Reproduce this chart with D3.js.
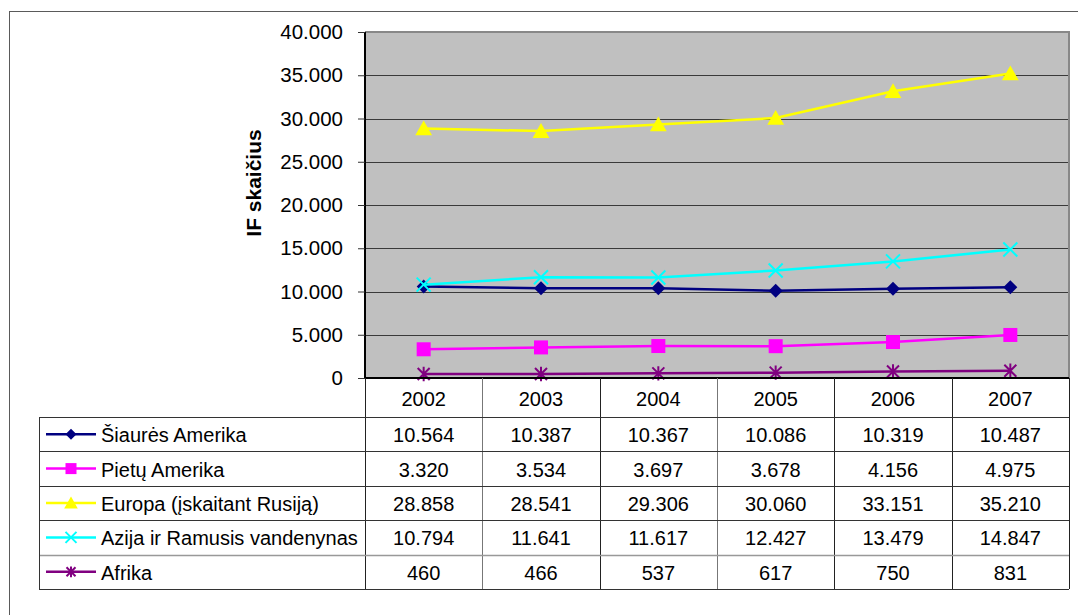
<!DOCTYPE html>
<html>
<head>
<meta charset="utf-8">
<script src="https://cdn.jsdelivr.net/npm/d3@7"></script>
<style>
  html, body { margin: 0; padding: 0; background: #fff; }
  svg { display: block; font-family: "Liberation Sans", Arial, sans-serif; }
</style>
</head>
<body>
<svg id="chart" width="1078" height="615"></svg>
<script>
// Investicinių fondų skaičius pagal regionus, 2002–2007
const years = ["2002", "2003", "2004", "2005", "2006", "2007"];
const seriesNames = [
  "Šiaurės Amerika",
  "Pietų Amerika",
  "Europa (įskaitant Rusiją)",
  "Azija ir Ramusis vandenynas",
  "Afrika"
];
const northAmerica = [10564, 10387, 10367, 10086, 10319, 10487];
const southAmerica = [3320, 3534, 3697, 3678, 4156, 4975];
const europe = [28858, 28541, 29306, 30060, 33151, 35210];
const asiaPacific = [10794, 11641, 11617, 12427, 13479, 14847];
const africa = [460, 466, 537, 617, 750, 831];
const yTicks = [0, 5000, 10000, 15000, 20000, 25000, 30000, 35000, 40000];
const yTitle = "IF skaičius";

const seriesColors = ["#000080", "#FF00FF", "#FFFF00", "#00FFFF", "#800080"];
const markerKinds = ["diamond", "square", "triangle", "cross", "star"];

const seriesList = [northAmerica, southAmerica, europe, asiaPacific, africa].map((values, i) => ({
  name: seriesNames[i], values, color: seriesColors[i], marker: markerKinds[i]
}));

const svg = d3.select("#chart");

// Lithuanian number style: thousands separated by a dot
const fmt = v => {
  const s = String(Math.round(v));
  return s.replace(/\B(?=(\d{3})+(?!\d))/g, ".");
};

const plot = { left: 365, right: 1069, top: 32, bottom: 378 };
const table = { left: 39, right: 1069, headerTop: 378, top: 417, rowH: 34.4 };

const x = d3.scaleBand().domain(years).range([plot.left, plot.right]).padding(0);
const y = d3.scaleLinear().domain([0, 40000]).range([plot.bottom, plot.top]);
const cx = d => x(d) + x.bandwidth() / 2;

// Outer chart frame
svg.append("rect")
  .attr("x", 9.5).attr("y", 11.5)
  .attr("width", 1100).attr("height", 700)
  .attr("fill", "#fff").attr("stroke", "#5a5a5a").attr("stroke-width", 1);

// Plot area background
svg.append("rect")
  .attr("x", plot.left).attr("y", plot.top)
  .attr("width", plot.right - plot.left).attr("height", plot.bottom - plot.top)
  .attr("fill", "#C0C0C0");

// Horizontal gridlines
svg.append("g")
  .selectAll("line")
  .data(yTicks.filter(t => t > 0 && t < 40000))
  .join("line")
  .attr("x1", plot.left).attr("x2", plot.right)
  .attr("y1", d => Math.round(y(d)) + 0.5).attr("y2", d => Math.round(y(d)) + 0.5)
  .attr("stroke", "#3a3a3a").attr("stroke-width", 1);

// Plot border top and right
svg.append("path")
  .attr("d", `M${plot.left},${plot.top} H${plot.right} V${plot.bottom}`)
  .attr("fill", "none").attr("stroke", "#888").attr("stroke-width", 2);

// Y axis
const yAxis = d3.axisLeft(y).tickValues(yTicks).tickFormat(fmt).tickSize(7).tickPadding(15);
const yg = svg.append("g").attr("transform", `translate(${plot.left},0)`).call(yAxis);
yg.select(".domain").attr("stroke", "#000").attr("stroke-width", 2)
  .attr("d", `M0,${plot.top}V${plot.bottom}`);
yg.selectAll(".tick line").attr("stroke", "#333");
yg.selectAll(".tick text")
  .attr("font-size", 20.5).attr("fill", "#000")
  .attr("font-family", "'Liberation Sans', Arial, sans-serif");

// Y axis title
svg.append("text")
  .attr("transform", `translate(261,183) rotate(-90)`)
  .attr("text-anchor", "middle")
  .attr("font-size", 21).attr("font-weight", "bold")
  .text(yTitle);

// Marker drawing
function drawMarker(g, kind, color, s) {
  if (kind === "diamond") {
    g.append("path").attr("d", `M0,${-s}L${s},0L0,${s}L${-s},0Z`).attr("fill", color);
  } else if (kind === "square") {
    g.append("rect").attr("x", -s).attr("y", -s).attr("width", 2 * s).attr("height", 2 * s).attr("fill", color);
  } else if (kind === "triangle") {
    g.append("path").attr("d", `M0,${-s}L${s * 1.05},${s * 0.85}L${-s * 1.05},${s * 0.85}Z`).attr("fill", color);
  } else if (kind === "cross") {
    g.append("path").attr("d", `M${-s},${-s}L${s},${s}M${s},${-s}L${-s},${s}`)
      .attr("stroke", color).attr("stroke-width", 2).attr("fill", "none");
  } else if (kind === "star") {
    g.append("path").attr("d", `M${-s},${-s}L${s},${s}M${s},${-s}L${-s},${s}M0,${-s * 1.2}V${s * 1.2}`)
      .attr("stroke", color).attr("stroke-width", 2).attr("fill", "none");
  }
}
const markerSize = { diamond: 7, square: 7, triangle: 8, cross: 7, star: 6 };

// Series lines and markers
const line = d3.line().x((d, i) => cx(years[i])).y(d => y(d));
seriesList.forEach(s => {
  svg.append("path")
    .datum(s.values)
    .attr("d", line)
    .attr("fill", "none")
    .attr("stroke", s.color)
    .attr("stroke-width", 2.5);
  s.values.forEach((v, i) => {
    const g = svg.append("g").attr("transform", `translate(${cx(years[i])},${y(v)})`);
    drawMarker(g, s.marker, s.color, markerSize[s.marker]);
  });
});

// X axis line
svg.append("line")
  .attr("x1", plot.left).attr("x2", plot.right)
  .attr("y1", plot.bottom).attr("y2", plot.bottom)
  .attr("stroke", "#000").attr("stroke-width", 2);

// Data table
const tableBottom = table.top + table.rowH * seriesList.length;
const tg = svg.append("g");

// Header row: year labels and separators
tg.selectAll("text.year")
  .data(years)
  .join("text")
  .attr("class", "year")
  .attr("x", d => cx(d))
  .attr("y", (table.headerTop + table.top) / 2 + 1)
  .attr("dy", "0.35em")
  .attr("text-anchor", "middle")
  .attr("font-size", 20)
  .text(d => d);

// Vertical separators across header and body
const colEdges = years.map(d => x(d)).concat([plot.right]);
tg.selectAll("line.col")
  .data(colEdges)
  .join("line")
  .attr("class", "col")
  .attr("x1", d => Math.round(d) + 0.5).attr("x2", d => Math.round(d) + 0.5)
  .attr("y1", table.headerTop).attr("y2", tableBottom)
  .attr("stroke", (d, i) => (i === 1 || i === 3) ? "#777" : "#222")
  .attr("stroke-width", 1);

// Horizontal row lines
const rowEdges = d3.range(seriesList.length + 1).map(i => table.top + i * table.rowH);
tg.selectAll("line.row")
  .data(rowEdges)
  .join("line")
  .attr("class", "row")
  .attr("x1", table.left).attr("x2", plot.right)
  .attr("y1", d => Math.round(d) + 0.5).attr("y2", d => Math.round(d) + 0.5)
  .attr("stroke", (d, i) => i === 4 ? "#999" : "#333")
  .attr("stroke-width", (d, i) => i === 4 ? 1.5 : 1);

// Left border of table
tg.append("line")
  .attr("x1", table.left + 0.5).attr("x2", table.left + 0.5)
  .attr("y1", table.top).attr("y2", tableBottom)
  .attr("stroke", "#333");

// Rows: legend key, name and values
seriesList.forEach((s, r) => {
  const cy = table.top + r * table.rowH + table.rowH / 2;
  tg.append("line")
    .attr("x1", 46).attr("x2", 96).attr("y1", cy).attr("y2", cy)
    .attr("stroke", s.color).attr("stroke-width", 2.5);
  const mg = tg.append("g").attr("transform", `translate(71,${cy})`);
  drawMarker(mg, s.marker, s.color, markerSize[s.marker] - 1.5);
  tg.append("text")
    .attr("x", 101).attr("y", cy + 1).attr("dy", "0.35em")
    .attr("font-size", 20)
    .text(s.name);
  s.values.forEach((v, i) => {
    tg.append("text")
      .attr("x", cx(years[i])).attr("y", cy + 1).attr("dy", "0.35em")
      .attr("text-anchor", "middle")
      .attr("font-size", 20)
      .text(fmt(v));
  });
});
</script>
</body>
</html>
